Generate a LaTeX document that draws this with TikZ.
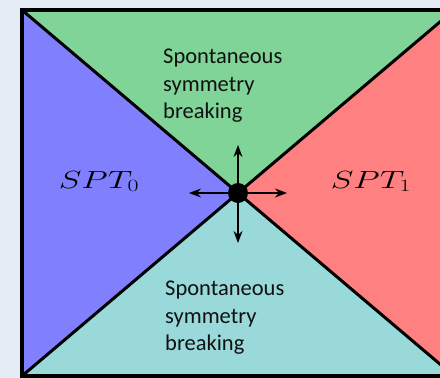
\documentclass[tikz,border=0pt]{standalone}
\usepackage{fontspec}
\newfontfamily\calib{Carlito}
\usetikzlibrary{arrows.meta}
\definecolor{bgc}{HTML}{E6ECF5}
\definecolor{sptA}{HTML}{8080FF}
\definecolor{sptB}{HTML}{FF8080}
\definecolor{ssbT}{HTML}{80D498}
\definecolor{ssbB}{HTML}{99D9DA}
\definecolor{ink}{HTML}{111111}
\tikzset{
  diag/.style={line width=3pt, line cap=round},
  frame/.style={line width=4pt},
  flow/.style={line width=1.5pt, -{Stealth[length=12pt,width=9pt]}},
  ssb/.style={font=\calib\fontsize{22.5}{27.5}\selectfont, text=ink, align=left, inner sep=0pt, anchor=north west},
  spt/.style={font=\fontsize{27}{30}\selectfont, inner sep=0pt, anchor=base}
}
\begin{document}
\begin{tikzpicture}[x=1pt,y=-1pt]
\useasboundingbox (0,0) rectangle (440,378);
\fill[bgc] (0,0) rectangle (440,378);
\coordinate (tl) at (22,10);
\coordinate (tr) at (454,10);
\coordinate (bl) at (22,376);
\coordinate (br) at (454,376);
\coordinate (c) at (238,193);
\fill[sptA] (tl) -- (c) -- (bl) -- cycle;
\fill[sptB] (tr) -- (c) -- (br) -- cycle;
\fill[ssbT] (tl) -- (c) -- (tr) -- cycle;
\fill[ssbB] (bl) -- (c) -- (br) -- cycle;
\draw[diag] (tl) -- (br);
\draw[diag] (bl) -- (tr);
\draw[frame] (tl) rectangle (br);
\node[ssb] (top) at (163,49) {Spontaneous\\symmetry\\breaking};
\node[ssb] (bot) at (165,281) {Spontaneous\\symmetry\\breaking};
\node[spt] (s0) at (99,188) {\scalebox{1.38}[1]{$SPT_0$}};
\node[spt] (s1) at (371,188) {\scalebox{1.38}[1]{$SPT_1$}};
\node[circle, fill=black, minimum size=20pt, inner sep=0pt] (dot) at (c) {};
\coordinate (up) at (238,145);
\coordinate (dn) at (238,243);
\coordinate (lf) at (189,193);
\coordinate (rt) at (287,193);
\draw[flow] (dot.center) -- (up);
\draw[flow] (dot.center) -- (dn);
\draw[flow] (dot.center) -- (lf);
\draw[flow] (dot.center) -- (rt);
\end{tikzpicture}
\end{document}
